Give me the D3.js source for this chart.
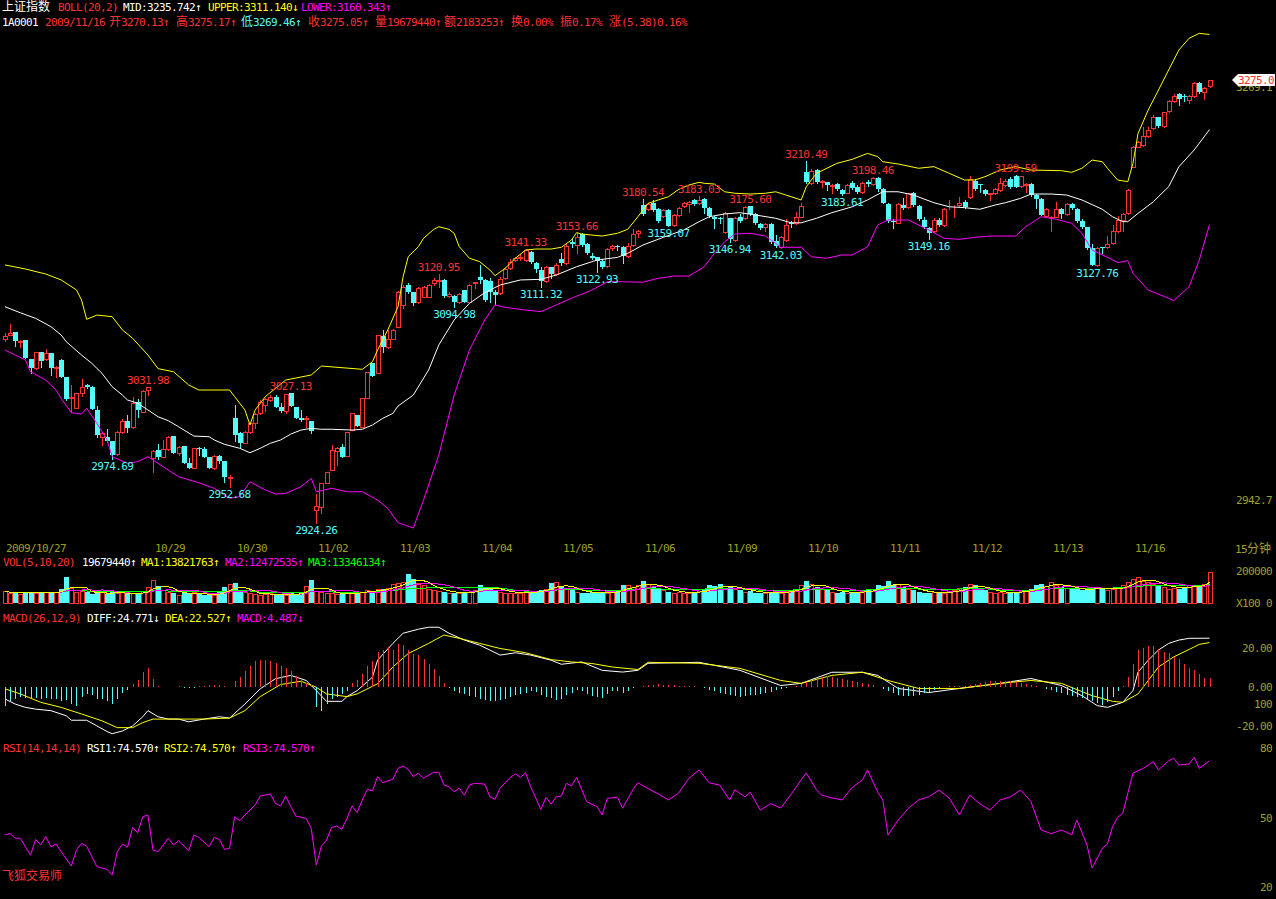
<!DOCTYPE html>
<html><head><meta charset="utf-8">
<script src="https://cdn.jsdelivr.net/npm/d3@7"></script>
<style>
html,body{margin:0;padding:0;background:#000;overflow:hidden}
svg{display:block}
text{font-family:"DejaVu Sans Mono","Noto Sans CJK SC",monospace;font-size:11px}
</style></head><body>
<svg id="c" width="1276" height="899"></svg>
<script>
// ---------------- DATA ----------------
const dayLabels = ["2009/10/27","10/29","10/30","11/02","11/03","11/04","11/05","11/06","11/09","11/10","11/11","11/12","11/13","11/16"];
const dayStart  = [0,29,45,61,77,93,109,125,141,157,173,189,205,221];

const open = [3069.6,3073.0,3075.1,3067.7,3069.3,3053.7,3046.6,3059.8,3054.0,3059.0,
3046.6,3053.2,3039.4,3022.8,3015.4,3026.8,3033.4,3032.0,3013.6,2992.4,
2992.4,2989.0,2978.7,2995.9,3005.1,2999.8,3020.2,3012.2,3029.4,2975.3,
2981.9,2976.6,2982.7,2993.0,2979.2,2985.3,2971.3,2967.4,2983.7,2982.4,
2976.1,2967.4,2977.1,2973.2,2959.4,3007.5,2995.1,2987.7,2996.4,3003.0,
3010.9,3017.5,3021.5,3024.1,3015.7,3013.0,3026.8,3016.2,3007.0,3006.2,
3005.1,2934.3,2937.0,2955.5,2966.0,2981.3,2984.5,2977.4,2997.7,3009.6,
3000.4,3023.3,3050.5,3043.2,3072.2,3063.2,3069.6,3079.3,3096.8,3112.6,
3107.3,3099.4,3103.4,3103.4,3114.5,3116.1,3116.6,3103.9,3103.9,3099.4,
3108.7,3099.4,3114.0,3119.2,3116.6,3116.1,3107.3,3106.0,3117.9,3125.8,
3132.4,3133.7,3132.4,3139.0,3130.3,3124.5,3116.1,3126.6,3121.3,3132.9,
3129.8,3146.9,3144.3,3153.0,3145.1,3135.6,3134.5,3131.9,3127.7,3141.7,
3143.5,3143.0,3135.6,3144.3,3153.6,3176.0,3172.6,3177.3,3172.6,3167.3,
3172.0,3160.2,3168.1,3175.2,3176.8,3180.0,3177.3,3180.5,3173.4,3166.8,
3166.0,3154.9,3165.4,3148.3,3166.8,3165.4,3175.2,3168.9,3161.0,3158.3,
3161.0,3147.7,3143.0,3148.3,3162.0,3162.0,3166.8,3202.4,3193.2,3203.7,
3194.0,3194.0,3191.3,3192.4,3187.9,3185.8,3193.2,3190.5,3186.0,3194.5,
3192.7,3197.2,3188.4,3176.8,3163.6,3162.0,3176.0,3174.2,3185.3,3175.2,
3164.1,3157.5,3155.7,3164.1,3160.2,3173.4,3174.2,3176.0,3178.7,3182.1,
3195.3,3192.7,3187.9,3184.7,3185.3,3187.9,3191.9,3196.3,3199.3,3191.1,
3191.9,3192.4,3183.9,3180.5,3167.3,3165.5,3166.8,3172.6,3168.9,3176.8,
3172.6,3163.6,3158.3,3141.7,3128.5,3142.5,3142.5,3145.6,3155.7,3164.1,
3169.4,3206.4,3222.2,3223.6,3230.7,3236.8,3245.5,3238.6,3250.7,3258.7,
3263.9,3262.4,3259.2,3262.4,3272.9,3265.8,3270.13];

const high = [3074.3,3081.7,3075.1,3069.0,3069.3,3053.7,3059.8,3059.8,3061.6,3059.0,
3048.4,3053.7,3039.4,3033.4,3027.3,3038.1,3034.2,3032.5,3016.7,2996.4,
2998.2,2989.0,2996.9,3006.4,3009.6,3024.1,3022.0,3029.4,3031.98,2981.9,
2986.6,2989.8,2993.0,2993.0,2985.3,2985.3,2975.3,2983.7,2984.5,2984.5,
2976.6,2977.9,2977.9,2973.2,2962.1,3017.5,2996.4,2996.9,3004.3,3010.9,
3021.5,3022.8,3025.4,3025.4,3018.9,3026.0,3027.13,3016.2,3013.6,3008.8,
3005.1,2946.7,2956.0,2964.7,2985.8,2984.5,2986.6,2996.4,3010.9,3009.6,
3023.3,3043.9,3050.5,3073.0,3076.9,3076.9,3077.4,3107.5,3112.6,3114.5,
3107.3,3111.3,3111.8,3113.4,3117.9,3120.95,3117.1,3107.3,3104.7,3106.5,
3108.7,3113.1,3115.3,3128.5,3117.1,3117.9,3108.7,3119.2,3127.2,3133.0,
3135.1,3137.2,3141.33,3139.8,3131.1,3126.6,3127.7,3127.2,3129.8,3138.2,
3145.1,3148.8,3153.66,3153.6,3145.6,3137.7,3135.1,3132.9,3141.7,3144.3,
3144.3,3143.5,3145.6,3156.7,3156.2,3180.54,3177.3,3179.9,3173.4,3172.6,
3172.6,3168.9,3174.7,3178.6,3179.4,3180.5,3183.03,3181.3,3174.2,3167.3,
3166.8,3170.7,3165.4,3166.8,3168.9,3174.9,3175.6,3170.0,3162.0,3162.0,
3161.5,3152.2,3151.5,3164.6,3163.6,3170.7,3177.3,3210.49,3204.3,3204.3,
3195.8,3194.5,3192.4,3193.7,3188.4,3192.7,3195.3,3191.9,3194.5,3195.8,
3198.46,3198.0,3189.2,3177.3,3164.7,3177.3,3181.3,3185.8,3186.6,3176.0,
3166.8,3158.3,3165.4,3165.4,3173.4,3180.0,3176.0,3182.1,3180.0,3199.0,
3196.3,3192.7,3188.4,3185.8,3189.2,3197.2,3196.3,3198.4,3199.59,3199.3,
3193.2,3193.2,3184.7,3181.3,3173.9,3167.3,3178.7,3173.4,3177.3,3177.9,
3173.4,3164.7,3158.8,3145.1,3142.7,3143.0,3151.5,3160.2,3167.3,3169.4,
3188.4,3222.8,3226.5,3238.1,3237.5,3247.3,3246.0,3249.4,3259.2,3263.9,
3264.7,3263.9,3263.1,3273.7,3273.7,3269.8,3275.17];

const low = [3068.5,3072.7,3064.5,3063.2,3054.5,3043.2,3046.0,3047.9,3053.2,3041.3,
3039.4,3039.4,3021.5,3012.3,3014.9,3024.9,3030.7,3014.3,2992.4,2985.8,
2988.5,2974.69,2978.2,2995.1,2996.4,2999.6,3007.7,3011.9,3025.4,2964.7,
2974.5,2976.1,2981.9,2979.8,2977.9,2971.8,2967.4,2967.4,2977.9,2976.6,
2967.4,2966.9,2971.3,2956.8,2952.68,2989.3,2984.5,2987.2,2995.1,2999.0,
3010.4,3012.8,3020.7,3015.7,3012.2,3010.9,3016.7,3007.0,3005.1,3000.4,
2995.6,2924.26,2931.7,2955.5,2966.0,2970.0,2976.6,2977.4,2997.7,3000.9,
3000.4,3023.3,3040.5,3043.2,3059.8,3062.4,3069.6,3079.3,3094.1,3106.5,
3096.8,3098.6,3102.9,3103.4,3112.6,3111.3,3103.4,3103.4,3094.98,3098.6,
3099.4,3098.9,3110.0,3114.0,3100.2,3099.4,3097.3,3105.5,3117.1,3125.0,
3131.9,3132.4,3131.9,3130.3,3123.2,3111.32,3115.3,3117.9,3120.5,3128.5,
3129.3,3142.5,3137.7,3143.5,3137.2,3132.9,3122.93,3125.8,3127.2,3140.4,
3140.4,3130.3,3135.1,3143.5,3150.4,3168.1,3172.0,3171.5,3162.8,3166.8,
3159.07,3159.4,3167.3,3174.2,3170.7,3176.0,3176.8,3169.4,3166.8,3157.5,
3161.5,3154.1,3146.94,3147.7,3162.8,3164.6,3168.1,3161.0,3156.7,3155.7,
3146.2,3143.0,3142.03,3147.7,3158.8,3161.0,3166.8,3193.2,3192.7,3193.2,
3190.0,3187.9,3185.3,3187.9,3183.61,3185.3,3188.4,3185.3,3185.3,3190.8,
3191.9,3187.4,3177.3,3162.8,3157.5,3161.5,3172.6,3173.4,3175.2,3164.1,
3157.5,3149.16,3154.9,3159.4,3159.1,3172.6,3166.8,3175.2,3173.4,3181.3,
3187.9,3186.6,3183.9,3180.0,3184.7,3187.4,3191.1,3189.2,3190.0,3190.5,
3186.6,3183.1,3173.4,3168.1,3166.8,3155.7,3166.3,3165.5,3168.1,3172.6,
3162.8,3157.5,3140.9,3128.3,3127.76,3138.2,3141.7,3145.1,3154.9,3155.7,
3168.9,3205.9,3221.7,3222.8,3230.1,3236.0,3238.1,3238.1,3249.9,3257.9,
3255.2,3258.7,3257.1,3261.8,3265.0,3260.0,3269.46];

const close = [3072.5,3074.8,3068.5,3068.5,3054.5,3046.6,3059.2,3052.4,3058.5,3046.6,
3047.9,3040.0,3022.0,3024.1,3026.8,3032.0,3031.5,3014.3,2993.7,2995.6,
2989.3,2977.9,2996.4,3005.1,2999.0,3019.4,3013.6,3028.6,3031.5,2981.3,
2976.6,2982.7,2991.9,2979.8,2984.5,2971.8,2967.9,2983.7,2982.7,2976.6,
2967.4,2977.1,2973.2,2960.7,2960.7,2993.7,2987.7,2996.4,3003.0,3010.1,
3020.2,3022.0,3024.1,3015.7,3013.0,3026.0,3016.7,3007.0,3005.6,3007.0,
2997.2,2937.5,2956.0,2964.7,2981.9,2983.7,2976.6,2996.4,3010.9,3000.9,
3023.3,3043.9,3040.5,3073.0,3063.7,3069.6,3076.9,3107.1,3111.3,3107.3,
3098.1,3110.0,3110.8,3112.6,3116.6,3116.6,3103.9,3105.5,3099.4,3105.5,
3099.4,3112.6,3114.7,3116.6,3100.7,3107.3,3104.7,3117.4,3125.3,3131.1,
3133.7,3135.1,3140.4,3131.1,3125.0,3116.1,3127.2,3121.3,3128.5,3129.8,
3143.5,3145.1,3150.9,3144.3,3138.2,3133.7,3131.9,3126.6,3140.9,3143.5,
3142.5,3135.6,3143.8,3153.0,3155.4,3168.9,3176.8,3172.0,3163.6,3172.0,
3159.4,3168.1,3173.9,3177.3,3178.6,3176.8,3180.0,3173.4,3167.3,3164.6,
3165.2,3169.9,3148.8,3165.4,3163.6,3174.7,3168.9,3161.5,3157.5,3161.0,
3146.9,3143.5,3150.4,3160.2,3161.0,3166.8,3175.2,3194.5,3203.2,3194.5,
3194.8,3191.9,3191.9,3188.4,3184.7,3191.9,3189.2,3186.6,3193.7,3192.7,
3197.2,3188.4,3177.9,3163.3,3162.8,3176.5,3173.4,3185.3,3176.0,3164.7,
3158.3,3153.6,3164.1,3160.2,3172.6,3173.9,3174.7,3177.9,3174.2,3196.6,
3188.4,3191.9,3184.7,3185.3,3188.4,3193.2,3195.0,3190.0,3190.5,3199.0,
3192.4,3183.9,3180.5,3168.1,3172.6,3166.3,3172.6,3168.9,3176.5,3173.4,
3163.6,3158.3,3141.7,3128.5,3142.2,3141.7,3145.1,3155.7,3164.1,3168.6,
3187.9,3221.7,3225.7,3230.9,3235.4,3245.5,3238.6,3249.4,3258.4,3262.6,
3259.7,3261.3,3262.4,3272.4,3265.8,3269.0,3275.05];

// volume in hundreds of shares (axis "X100")
const volume = [75000,60000,71000,54000,71000,67000,60000,60000,71000,60000,
71000,85000,162000,96000,71000,75000,67000,54000,60000,75000,
54000,67000,60000,67000,54000,60000,54000,75000,102000,144000,
108000,81000,71000,60000,50000,67000,54000,67000,54000,50000,
50000,50000,67000,102000,117000,123000,67000,67000,
60000,55000,50000,55000,60000,50000,55000,50000,60000,55000,65000,108000,144000,
75000,70000,65000,60000,55000,55000,60000,65000,70000,70000,80000,75000,85000,90000,95000,120000,
123000,133000,179000,150000,123000,110000,90000,80000,75000,70000,65000,60000,60000,65000,70000,80000,
110000,100000,90000,80000,70000,65000,60000,65000,60000,70000,75000,70000,80000,90000,125000,130000,
100000,90000,80000,70000,65000,60000,70000,65000,60000,65000,70000,80000,110000,115000,100000,110000,
140000,120000,100000,90000,80000,70000,65000,70000,65000,60000,70000,75000,85000,110000,105000,120000,
95000,100000,90000,80000,70000,75000,65000,60000,65000,60000,70000,65000,75000,80000,90000,110000,
135000,120000,100000,90000,80000,70000,65000,70000,65000,60000,70000,75000,80000,90000,110000,105000,
140000,115000,120000,100000,90000,80000,70000,65000,60000,70000,65000,60000,75000,80000,95000,100000,
120000,110000,90000,80000,70000,65000,70000,60000,65000,70000,75000,80000,90000,110000,120000,105000,
130000,115000,100000,95000,90000,85000,80000,80000,100000,95000,85000,80000,90000,100000,110000,130000,
150000,165000,140000,130000,120000,110000,100000,90000,95000,90000,100000,110000,115000,100000,120000,196794];

// Bollinger (20,2): [bar, value]
const bollUpper = [[0,3128.5],[4,3125.3],[8,3121.3],[11,3116.6],[14,3108.7],[15,3100.7],[16,3085.4],[18,3088.8],[21,3087.5],[23,3077.0],[25,3070.4],[28,3057.1],[30,3046.3],[33,3043.9],[36,3033.4],[38,3029.4],[44,3029.4],[45,3024.1],[47,3013.6],[48,3001.7],[49,3013.6],[51,3024.1],[55,3037.3],[60,3041.3],[62,3048.4],[70,3045.8],[72,3051.8],[73,3061.1],[75,3077.0],[77,3095.4],[78,3119.2],[79,3135.0],[81,3143.0],[82,3149.6],[84,3156.7],[85,3158.8],[87,3156.7],[88,3153.6],[89,3143.0],[91,3133.8],[93,3131.1],[95,3124.5],[96,3120.0],[98,3125.8],[100,3133.8],[102,3140.3],[104,3141.1],[107,3141.1],[109,3142.5],[111,3148.3],[112,3154.1],[113,3153.0],[115,3152.2],[117,3151.4],[120,3153.6],[122,3156.7],[124,3166.7],[126,3177.3],[128,3180.0],[130,3182.6],[132,3188.4],[134,3191.8],[136,3194.0],[137,3193.2],[139,3192.6],[141,3186.5],[143,3185.3],[146,3184.7],[149,3185.3],[151,3186.5],[153,3183.9],[156,3180.0],[157,3190.5],[159,3201.1],[163,3209.0],[166,3212.2],[169,3216.9],[171,3214.3],[172,3210.3],[175,3208.5],[179,3205.1],[182,3206.4],[185,3201.1],[188,3195.8],[190,3195.8],[192,3198.4],[195,3203.7],[198,3206.4],[201,3203.7],[207,3203.2],[209,3201.9],[211,3205.1],[213,3211.6],[215,3210.3],[216,3205.1],[218,3195.8],[220,3194.5],[221,3209.0],[222,3232.8],[224,3251.3],[226,3267.1],[228,3283.0],[230,3298.8],[232,3308.1],[234,3312.0],[236,3311.14]];
const bollMid = [[0,3095.4],[3,3090.6],[6,3086.2],[9,3079.6],[11,3073.0],[12,3067.7],[15,3057.1],[17,3050.6],[19,3042.6],[21,3032.0],[23,3025.4],[24,3021.5],[26,3018.9],[28,3013.6],[30,3008.2],[32,3005.1],[34,3000.3],[37,2992.9],[40,2992.4],[41,2989.8],[43,2986.4],[46,2983.2],[48,2979.7],[50,2983.2],[52,2987.2],[54,2989.8],[56,2994.5],[58,2997.7],[60,2999.0],[62,2998.3],[64,2998.3],[68,2997.7],[70,2998.3],[72,3001.7],[74,3006.9],[76,3010.9],[77,3016.7],[80,3025.4],[83,3045.3],[85,3065.1],[88,3084.9],[91,3098.1],[94,3106.5],[97,3112.6],[101,3116.6],[105,3117.1],[108,3120.5],[112,3127.1],[116,3132.4],[120,3134.5],[122,3137.7],[125,3144.3],[129,3150.4],[133,3156.2],[136,3162.8],[138,3166.7],[141,3168.9],[144,3169.9],[147,3168.1],[151,3165.5],[154,3161.9],[156,3161.9],[159,3165.5],[162,3169.9],[166,3174.6],[169,3180.0],[172,3186.5],[175,3186.5],[178,3183.9],[182,3177.8],[185,3174.6],[188,3173.9],[191,3172.6],[194,3176.0],[196,3177.8],[199,3181.3],[201,3184.7],[205,3184.7],[208,3183.9],[211,3180.0],[215,3172.6],[217,3166.7],[219,3162.8],[220,3162.8],[222,3169.4],[225,3178.6],[228,3190.5],[230,3206.3],[233,3219.6],[236,3235.74]];
const bollLower = [[0,3061.1],[2,3057.1],[4,3053.2],[5,3043.9],[8,3037.3],[10,3029.4],[11,3022.8],[13,3011.4],[15,3010.4],[16,3014.9],[18,3003.0],[20,2989.8],[21,2976.6],[24,2971.3],[26,2972.6],[28,2976.6],[31,2968.6],[34,2960.7],[38,2955.9],[41,2951.5],[44,2943.6],[46,2944.9],[48,2956.7],[51,2950.2],[53,2947.0],[55,2947.5],[58,2952.8],[60,2959.4],[61,2948.8],[64,2951.5],[67,2948.8],[70,2948.8],[73,2942.2],[75,2935.6],[77,2924.3],[80,2920.0],[82,2942.2],[85,2977.9],[88,3025.4],[91,3061.1],[94,3084.9],[96,3096.8],[98,3094.9],[102,3092.8],[105,3091.5],[108,3096.8],[111,3102.1],[115,3108.6],[118,3115.2],[121,3115.2],[125,3114.8],[128,3117.9],[131,3119.7],[134,3119.7],[137,3127.1],[139,3137.7],[141,3146.9],[143,3153.0],[146,3153.6],[149,3151.4],[151,3145.6],[152,3142.5],[156,3142.5],[158,3135.0],[161,3133.8],[164,3136.4],[166,3136.4],[169,3142.9],[171,3160.2],[173,3164.1],[177,3164.1],[181,3156.2],[184,3149.6],[187,3148.8],[190,3150.4],[193,3151.4],[198,3151.4],[200,3158.8],[203,3166.7],[206,3164.7],[209,3161.5],[211,3153.6],[213,3140.3],[216,3134.6],[218,3130.3],[220,3131.9],[221,3121.9],[224,3108.6],[228,3102.1],[229,3100.2],[232,3111.2],[234,3132.4],[236,3160.34]];

// marked extremes
const highMarks = [[28,3031.98],[56,3027.13],[85,3120.95],[102,3141.33],[112,3153.66],[125,3180.54],[136,3183.03],[146,3175.60],[157,3210.49],[170,3198.46],[198,3199.59]];
const lowMarks  = [[21,2974.69],[44,2952.68],[61,2924.26],[88,3094.98],[105,3111.32],[116,3122.93],[130,3159.07],[142,3146.94],[152,3142.03],[164,3183.61],[181,3149.16],[214,3127.76]];

// MACD(26,12,9)
const macdBar = [-9.8,-7.3,-6.4,-5.2,-6.0,-6.4,-6.0,-6.4,-6.0,-6.4,-6.4,-7.3,-7.0,-9.0,-9.8,-5.2,-4.1,-4.6,-6.4,-6.4,-7.3,-9.0,-6.4,-3.5,-1.6,1.4,3.5,7.5,9.7,4.1,0.2,-0.3,-0.5,-0.5,0.2,-0.6,-1.0,-0.6,0.3,0.5,0.6,0.8,0.6,0.3,-0.3,2.8,4.8,7.9,10.4,13.0,13.8,13.8,13.0,12.1,10.4,9.5,7.9,5.3,3.6,1.9,0.7,-10.7,-12.4,-9.0,-6.4,-5.5,-3.8,-2.1,1.7,3.1,6.4,10.7,13.3,17.6,18.5,20.2,18.8,21.9,21.1,18.5,16.8,15.9,14.2,11.6,9.0,5.5,1.7,-1.0,
-2.3,-3.1,-4.0,-4.8,-5.5,-6.2,-6.9,-7.6,-7.6,-6.9,-6.2,-5.3,-4.5,-3.8,-3.1,-2.4,-2.8,-4.5,-5.3,-5.9,-6.9,-6.4,-4.5,-3.1,-1.7,-2.4,-3.8,-4.8,-5.5,-5.9,-3.8,-2.4,-2.1,-3.1,-2.4,-1.0,-0.3,
0.5,0.8,1.0,1.2,1.0,0.8,0.6,0.5,0.4,0.3,0.2,
-0.5,-1.0,-1.8,-2.5,-3.2,-4.0,-4.6,-5.0,-5.2,-5.0,-4.6,-4.2,-3.8,-3.2,-2.6,-2.0,-1.5,-1.0,-0.5,
0.5,1.5,2.5,3.5,4.3,5.0,5.2,5.0,4.6,4.0,3.5,3.0,2.5,2.0,1.4,0.8,
-0.5,-1.5,-2.5,-3.5,-4.3,-4.8,-5.0,-4.8,-4.2,-3.5,-2.6,-1.6,
-0.8,-0.3,0.2,0.5,0.3,0.2,
0.6,1.2,1.8,2.2,2.6,2.8,3.0,2.8,2.6,2.2,1.8,1.4,1.0,0.5,
-0.5,-1.2,-2.0,-2.8,-3.5,-4.2,-4.8,-5.3,-6.0,-6.8,-7.6,-8.4,
-9.3,-8.1,-5.2,-2.1,0.5,4.8,11.7,18.7,20.0,20.7,20.7,19.0,17.8,17.3,15.2,14.3,11.7,9.7,8.6,6.6,4.5,4.49];
const macdDiff = [[0,-6.4],[2,-9.0],[4,-10.7],[6,-11.6],[9,-12.4],[12,-15.0],[13,-17.3],[16,-17.3],[18,-20.2],[20,-23.1],[21,-24.2],[23,-22.8],[25,-20.2],[27,-15.5],[28,-12.4],[30,-15.5],[32,-16.7],[34,-16.7],[36,-18.1],[39,-16.7],[42,-15.5],[44,-16.2],[47,-9.0],[50,-1.2],[53,4.0],[56,5.7],[59,3.1],[61,-2.1],[63,-7.6],[66,-7.6],[67,-5.2],[69,-2.1],[72,4.8],[73,13.5],[76,22.1],[78,27.3],[81,29.4],[83,30.4],[85,30.4],[87,27.3],[90,23.8],[93,21.2],[95,18.7],[97,16.1],[100,17.3],[103,16.1],[107,13.5],[109,11.4],[113,12.6],[117,8.3],[121,7.4],[124,8.3],[126,11.9],[136,12.4],[144,8.3],[152,0.5],[156,1.6],[162,7.3],[168,7.3],[171,5.7],[175,-1.0],[181,-3.1],[187,-1.0],[195,1.6],[201,4.1],[207,0.5],[211,-4.7],[214,-9.8],[216,-10.7],[219,-8.1],[221,-2.1],[222,7.4],[224,13.5],[226,18.7],[228,22.1],[230,23.8],[232,24.7],[236,24.77]];
const macdDea = [[0,-1.2],[3,-3.8],[7,-8.1],[11,-10.7],[15,-14.1],[19,-17.6],[22,-21.1],[25,-21.1],[27,-18.5],[29,-16.7],[33,-16.7],[39,-16.7],[44,-16.2],[47,-12.4],[50,-5.2],[54,1.0],[58,2.7],[61,-0.4],[63,-3.8],[67,-5.2],[69,-3.8],[73,1.4],[76,10.0],[79,16.9],[83,22.1],[86,26.4],[89,24.7],[93,22.1],[97,19.5],[102,17.3],[107,13.8],[111,12.6],[115,11.8],[119,10.0],[124,8.7],[126,12.4],[136,11.9],[144,9.3],[152,3.1],[156,1.6],[162,5.7],[168,7.3],[173,3.1],[179,-1.0],[187,-1.0],[195,1.6],[201,3.1],[207,1.6],[213,-4.7],[217,-7.6],[219,-8.1],[222,-3.8],[224,3.1],[226,10.0],[229,15.2],[232,19.0],[234,21.6],[236,22.53]];

// RSI(14)
const rsi = [[0,42.4],[1,43.1],[2,41.0],[3,41.0],[5,33.7],[6,40.5],[7,38.1],[8,41.7],[9,37.3],[10,38.5],[11,35.2],[13,29.0],[14,35.9],[15,38.8],[16,37.6],[18,28.7],[20,27.5],[21,25.1],[22,35.2],[23,38.5],[24,37.1],[25,45.7],[26,43.4],[27,50.3],[28,51.1],[29,35.9],[30,35.2],[32,41.0],[33,38.1],[34,39.9],[36,35.6],[37,42.4],[38,41.4],[40,37.3],[41,41.4],[42,40.5],[43,36.2],[44,36.6],[45,50.3],[46,48.6],[47,51.1],[49,55.4],[50,59.3],[52,60.2],[53,56.1],[54,55.0],[55,59.3],[56,54.7],[57,50.6],[59,49.6],[60,45.3],[61,29.4],[62,37.6],[63,40.2],[64,45.7],[65,46.3],[66,44.9],[67,49.6],[68,55.0],[69,52.1],[70,57.6],[71,62.2],[72,61.6],[73,67.7],[74,65.1],[76,66.6],[77,71.3],[78,72.3],[79,70.9],[80,67.7],[81,69.2],[82,67.0],[84,69.6],[85,69.6],[86,64.1],[87,63.3],[88,61.2],[89,62.7],[90,59.7],[91,64.1],[92,64.8],[94,64.5],[95,59.0],[96,57.9],[97,62.7],[99,67.4],[100,68.9],[101,67.4],[102,69.4],[103,63.3],[105,53.5],[106,58.8],[107,55.8],[108,59.0],[109,59.2],[110,64.8],[111,63.7],[112,67.4],[114,56.8],[116,54.7],[117,51.1],[118,58.3],[120,58.8],[121,54.0],[123,61.9],[124,65.1],[126,62.5],[128,60.2],[130,57.6],[132,60.6],[134,67.0],[136,70.6],[138,65.0],[140,64.1],[142,57.6],[143,62.0],[145,58.9],[146,61.0],[148,53.2],[150,56.0],[152,54.1],[154,60.0],[156,66.3],[157,69.3],[159,62.0],[160,59.7],[162,58.5],[164,57.6],[166,63.0],[168,66.3],[169,70.6],[171,61.0],[172,57.6],[173,42.4],[175,48.9],[177,54.0],[179,57.6],[181,59.0],[183,61.9],[185,58.5],[187,51.1],[189,59.7],[191,56.0],[193,53.2],[195,57.6],[197,59.0],[199,61.9],[201,57.0],[203,44.6],[205,43.0],[207,44.6],[209,42.5],[210,48.9],[212,38.1],[213,28.1],[215,36.6],[216,38.5],[217,46.0],[218,50.1],[219,51.8],[220,60.5],[221,69.2],[223,71.3],[225,74.2],[226,70.6],[228,74.6],[229,75.7],[230,72.8],[232,73.2],[233,76.1],[234,71.3],[236,74.57]];

// axis tick labels
const priceTicks = [["2942.7",2942.7],["3269.1",3270.0]];
const volTicks = ["200000","X100","0"];
const macdTicks = [["20.00",20],["0.00",0],["100",-9.2],["-20.00",-20]];
const rsiTicks = [80,50,20];

// ---------------- DRAW ----------------
const RED="#ff3232", CYAN="#54fcfc", YEL="#ffff00", MAG="#ff00ff", WHITE="#ffffff", GREEN="#00ff00", OLIVE="#a0a028";
const N = close.length;
const svg = d3.select("#c");
svg.append("rect").attr("width",1276).attr("height",899).attr("fill","#000");

const xS = d3.scaleLinear().domain([0,236]).range([5,1209.5]);
const cx = i => Math.round(xS(i));
const yP = d3.scaleLinear().domain([2924.26,3275.05]).range([522.7,80]);
const yV = d3.scaleLinear().domain([0,200000]).range([603,571]);
const yM = d3.scaleLinear().domain([0,20]).range([686.5,647.5]);
const yR = d3.scaleLinear().domain([20,80]).range([886.7,748.3]);

// text helpers: ASCII cells 6px, CJK cells 12px (terminal bitmap-font metrics)
const isCJK = ch => ch.codePointAt(0) >= 0x2E80;
function tw(s){let w=0;for(const ch of s) w += isCJK(ch)?12:6; return w;}
function runs(s){const out=[];for(const ch of s){const c=isCJK(ch);if(out.length&&out[out.length-1].c===c)out[out.length-1].t+=ch;else out.push({c,t:ch});}return out;}
function T(g,x,y,s,fill,anchor){
  const w = tw(s);
  const x0 = anchor==="end" ? x-w : anchor==="middle" ? x-w/2 : x;
  const t = g.append("text").attr("x",x0).attr("y",y).attr("fill",fill);
  runs(s).forEach(r=>t.append("tspan")
     .attr("font-size",r.c?"12px":"11px")
     .attr("letter-spacing",r.c?"0px":"-0.62px")
     .text(r.t));
  return t;
}
const gT = svg.append("g");

// headers
[[2,"上证指数",WHITE],[58,"BOLL(20,2)",RED],[123,"MID:3235.742↑",WHITE],[208,"UPPER:3311.140↓",YEL],[301,"LOWER:3160.343↑",MAG]]
 .forEach(d=>T(gT,d[0],11,d[1],d[2]));
[[2,"1A0001",WHITE],[45,"2009/11/16",RED],[109,"开3270.13↑",RED],[176,"高3275.17↑",RED],[241,"低3269.46↑",CYAN],[308,"收3275.05↑",RED],[375,"量19679440↑",RED],[444,"额2183253↑",RED],[511,"换0.00%",RED],[560,"振0.17%",RED],[609,"涨(5.38)0.16%",RED]]
 .forEach(d=>T(gT,d[0],26,d[1],d[2]));
[[3,"VOL(5,10,20)",RED],[82,"19679440↑",WHITE],[141,"MA1:13821763↑",YEL],[225,"MA2:12472535↑",MAG],[308,"MA3:13346134↑",GREEN]]
 .forEach(d=>T(gT,d[0],566,d[1],d[2]));
[[3,"MACD(26,12,9)",RED],[87,"DIFF:24.771↓",WHITE],[165,"DEA:22.527↑",YEL],[237,"MACD:4.487↓",MAG]]
 .forEach(d=>T(gT,d[0],622,d[1],d[2]));
[[3,"RSI(14,14,14)",RED],[87,"RSI1:74.570↑",WHITE],[164,"RSI2:74.570↑",YEL],[243,"RSI3:74.570↑",MAG]]
 .forEach(d=>T(gT,d[0],752,d[1],d[2]));
T(gT,2,880,"飞狐交易师",RED);

// date axis
dayLabels.forEach((s,k)=>T(gT,k===0?6:cx(dayStart[k])+2,552,s,OLIVE));
T(gT,1235,553,"15分钟",OLIVE);

// right axis labels
const RX = 1272;
priceTicks.forEach(d=>T(gT,RX,Math.round(yP(d[1]))+5,d[0],OLIVE,"end"));
T(gT,RX,575,volTicks[0],OLIVE,"end");
T(gT,1236,607,volTicks[1],OLIVE);
T(gT,RX,607,volTicks[2],OLIVE,"end");
macdTicks.forEach(d=>T(gT,RX,Math.round(yM(d[1]))+4,d[0],OLIVE,"end"));
rsiTicks.forEach(v=>T(gT,RX,Math.round(yR(v))+4,String(v),OLIVE,"end"));

// candles
const bars = d3.range(N).map(i=>({i,o:open[i],h:high[i],l:low[i],c:close[i],v:volume[i],up:close[i]>=open[i]}));
const gK = svg.append("g").attr("shape-rendering","crispEdges");
gK.selectAll("line.w").data(bars).join("line")
  .attr("x1",d=>cx(d.i)+0.5).attr("x2",d=>cx(d.i)+0.5)
  .attr("y1",d=>Math.round(yP(d.h))).attr("y2",d=>Math.round(yP(d.l))+1)
  .attr("stroke",d=>d.up?RED:CYAN);
gK.selectAll("rect.b").data(bars).join("rect")
  .attr("x",d=>d.up?cx(d.i)-2+0.5:cx(d.i)-2)
  .attr("y",d=>d.up?Math.round(yP(d.c))+0.5:Math.round(yP(d.o)))
  .attr("width",d=>d.up?4:5)
  .attr("height",d=>d.up?Math.max(0,Math.round(yP(d.o))-Math.round(yP(d.c))):Math.max(1,Math.round(yP(d.c))-Math.round(yP(d.o))))
  .attr("fill",d=>d.up?"#000":CYAN)
  .attr("stroke",d=>d.up?RED:"none");

// bollinger lines
const lineP = d3.line().x(d=>xS(d[0])).y(d=>yP(d[1]));
const gL = svg.append("g").attr("fill","none").attr("stroke-width",1);
gL.append("path").attr("d",lineP(bollMid)).attr("stroke",WHITE);
gL.append("path").attr("d",lineP(bollUpper)).attr("stroke",YEL);
gL.append("path").attr("d",lineP(bollLower)).attr("stroke",MAG);

// extreme marks
const gX = svg.append("g");
highMarks.forEach(d=>T(gX,xS(d[0]),yP(d[1])-3,d[1].toFixed(2),RED,"middle"));
lowMarks.forEach(d=>T(gX,xS(d[0]),yP(d[1])+11,d[1].toFixed(2),CYAN,"middle"));

// current price marker (value truncated to one decimal, as the terminal shows)
const last = close[N-1];
const yc = Math.round(yP(last));
svg.append("polygon").attr("points",`1232,${yc} 1238,${yc-6} 1275,${yc-6} 1275,${yc+6} 1238,${yc+6}`).attr("fill",WHITE);
T(svg,1238,yc+4,(Math.floor(last*10)/10).toFixed(1),RED);

// volume
const gV = svg.append("g").attr("shape-rendering","crispEdges");
gV.selectAll("rect").data(bars).join("rect")
  .attr("x",d=>d.up?cx(d.i)-2+0.5:cx(d.i)-2)
  .attr("y",d=>d.up?Math.round(yV(d.v))+0.5:Math.round(yV(d.v)))
  .attr("width",d=>d.up?4:5)
  .attr("height",d=>Math.max(1,603-Math.round(yV(d.v))))
  .attr("fill",d=>d.up?"#000":CYAN)
  .attr("stroke",d=>d.up?RED:"none");
function ma(arr,n){return arr.map((v,i)=>{const s=arr.slice(Math.max(0,i-n+1),i+1);return [i,d3.mean(s)];});}
const lineV = d3.line().x(d=>xS(d[0])).y(d=>yV(d[1]));
const gVL = svg.append("g").attr("fill","none").attr("shape-rendering","crispEdges");
gVL.append("path").attr("d",lineV(ma(volume,20))).attr("stroke",GREEN);
gVL.append("path").attr("d",lineV(ma(volume,10))).attr("stroke",MAG);
gVL.append("path").attr("d",lineV(ma(volume,5))).attr("stroke",YEL);

// MACD
const gM = svg.append("g").attr("shape-rendering","crispEdges");
gM.selectAll("line").data(macdBar.map((v,i)=>[i,v])).join("line")
  .attr("x1",d=>cx(d[0])+0.5).attr("x2",d=>cx(d[0])+0.5)
  .attr("y1",Math.round(yM(0))).attr("y2",d=>Math.round(yM(d[1])))
  .attr("stroke",d=>d[1]>=0?RED:CYAN);
const lineM = d3.line().x(d=>xS(d[0])).y(d=>yM(d[1]));
gL.append("path").attr("d",lineM(macdDiff)).attr("stroke",WHITE);
gL.append("path").attr("d",lineM(macdDea)).attr("stroke",YEL);

// RSI
const lineR = d3.line().x(d=>xS(d[0])).y(d=>yR(d[1]));
gL.append("path").attr("d",lineR(rsi)).attr("stroke",MAG);
</script>
</body></html>
